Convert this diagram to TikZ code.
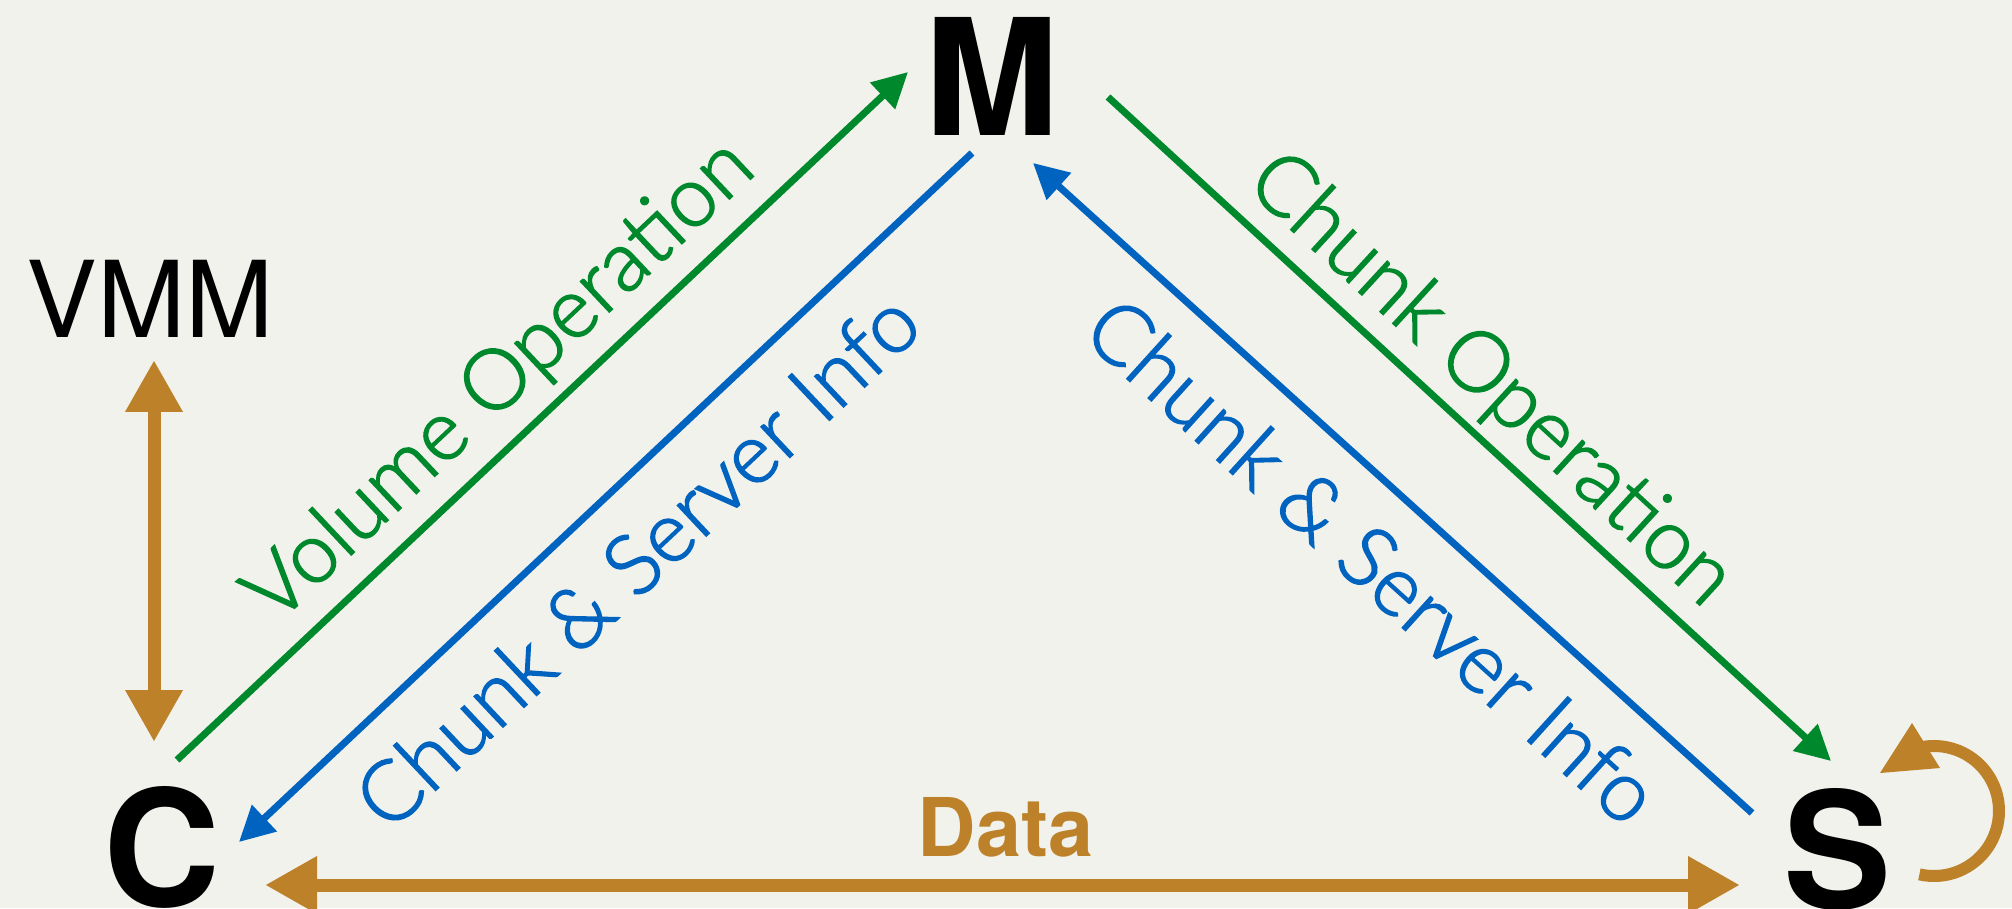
\documentclass[tikz,border=0pt]{standalone}
\usepackage{fontspec}
\setmainfont{TeX Gyre Heros}
\newfontfamily\labelfont{Lato Light}[FakeBold=2]
\usetikzlibrary{arrows.meta}
\definecolor{bg}{HTML}{F1F2EC}
\definecolor{opgreen}{HTML}{00882C}
\definecolor{infoblue}{HTML}{0063BF}
\definecolor{dataochre}{HTML}{BC8129}
\begin{document}
\begin{tikzpicture}[x=1pt,y=1pt,
  ent/.style={font=\bfseries\fontsize{162}{170}\selectfont, inner sep=0pt, anchor=base},
  flow/.style={line width=7pt, -{Triangle[length=35pt,width=35pt]}},
  lbl/.style={font=\labelfont\fontsize{84}{100}\selectfont, inner sep=0pt, sloped, anchor=base},
  bigarrow/.style={line width=13pt, dataochre,
    {Triangle[length=52pt,width=54pt]}-{Triangle[length=52pt,width=54pt]}}
]
% canvas
\fill[bg] (0,0) rectangle (2012,908);
\useasboundingbox (0,0) rectangle (2012,908);

% the three parties and the VMM
\node[ent] (M) at (992,772) {M};
\node[ent] (C) at (161.5,2) {C};
\node[ent] (S) at (1838,0) {S};
\node[font=\fontsize{106}{120}\selectfont, inner sep=0pt, anchor=base] (VMM) at (150,570) {VMM};

% connector end points
\coordinate (g1) at (177,148);
\coordinate (g2) at (908,836);
\coordinate (b1) at (972,755);
\coordinate (b2) at (239,66);
\coordinate (g3) at (1108,811);
\coordinate (g4) at (1831,147);
\coordinate (b3) at (1752,95);
\coordinate (b4) at (1033,745);
\coordinate (v1) at (154,548);
\coordinate (v2) at (154,166);
\coordinate (d1) at (265,23);
\coordinate (d2) at (1740,23);
\coordinate (loopc) at (1934,97);

% control and metadata flows
\draw[flow, opgreen] (g1) -- (g2);
\draw[flow, infoblue] (b1) -- (b2);
\draw[flow, opgreen] (g3) -- (g4);
\draw[flow, infoblue] (b3) -- (b4);

\path (g1) -- (g2) node[lbl, pos=0.493, yshift=30pt, text=opgreen] (volop) {Volume Operation};
\path (b2) -- (b1) node[lbl, pos=0.48, yshift=-97pt, text=infoblue] (infol) {Chunk \& Server Info};
\path (g3) -- (g4) node[lbl, pos=0.482, yshift=26pt, text=opgreen] (chop) {Chunk Operation};
\path (b4) -- (b3) node[lbl, pos=0.535, yshift=-97pt, text=infoblue] (infor) {Chunk \& Server Info};

% data paths
\draw[bigarrow] (v1) -- (v2);
\draw[bigarrow] (d1) -- (d2);
\node[font=\bfseries\fontsize{81}{96}\selectfont, text=dataochre, inner sep=0pt, anchor=base] (data) at (1005.5,52) {Data};

% replication loop on S
\draw[dataochre, line width=12pt] (loopc) ++(-103:65) arc[start angle=-103, end angle=100, radius=65pt];
\fill[dataochre] (1912,185) -- (1880,135) -- (1940,140) -- cycle;
\end{tikzpicture}
\end{document}
